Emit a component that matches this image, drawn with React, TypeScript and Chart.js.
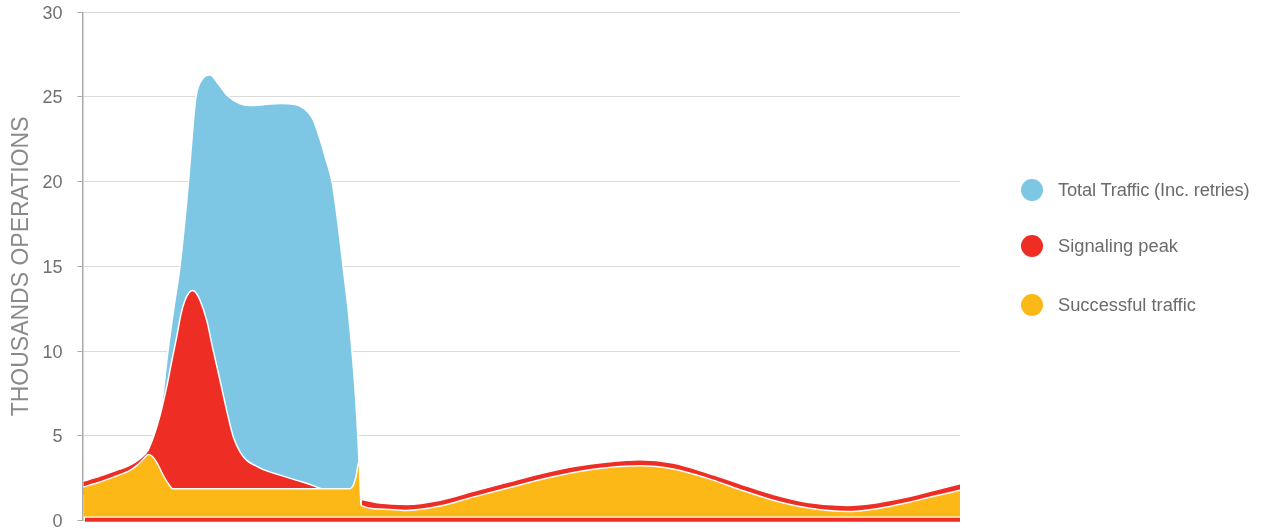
import React, { useEffect, useRef } from "react";
import { Chart, registerables } from "chart.js";

Chart.register(...registerables);

// ---- data (x = position in the observation window, 0..100 %; y = thousands of operations)
const seriesNames = ["Total Traffic (Inc. retries)", "Signaling peak", "Successful traffic"];
const yTitle = "THOUSANDS OPERATIONS";
const yTicks = [0, 5, 10, 15, 20, 25, 30];

const totalT = [7.46, 8.26, 9.03, 9.74, 10.43, 11.11, 12.08, 12.55, 12.93, 13.73, 14.53, 15.44, 16.47, 17.95, 19.09, 20.8, 22.51, 24.22, 25.13, 25.7, 26.27, 27.07, 27.75, 28.43, 29.12, 29.69, 30.26, 30.71, 31.05, 31.28, 31.51];
const totalV = [4.14, 5.3, 6.9, 10.0, 12.6, 15.0, 20.0, 23.0, 25.0, 26.1, 26.3, 25.8, 25.1, 24.6, 24.5, 24.55, 24.62, 24.55, 24.36, 24.1, 23.67, 22.5, 21.3, 20.0, 17.5, 15.0, 12.5, 10.0, 7.8, 5.9, 3.5];

const peakT1 = [0.1, 1.99, 3.7, 5.41, 6.55, 7.46, 7.92, 8.46, 9.03, 9.6, 10.17, 10.74, 11.23, 11.68, 12.14, 12.56, 12.99, 13.39, 14.15, 14.87, 15.67, 16.43, 17.19, 17.95, 18.71, 19.66, 20.6, 22.51, 24.41, 25.93, 27.18];
const peakV1 = [2.33, 2.62, 2.93, 3.27, 3.65, 4.14, 4.7, 5.52, 6.6, 7.9, 9.4, 10.85, 12.2, 13.0, 13.45, 13.57, 13.4, 13.0, 11.83, 10.1, 8.28, 6.5, 4.93, 4.05, 3.55, 3.25, 3.0, 2.68, 2.37, 2.13, 1.88];

const peakT2 = [31.82, 33.9, 36.95, 40.74, 44.5, 48.38, 52.14, 56.13, 59.77, 63.53, 67.29, 71.17, 74.93, 78.69, 82.56, 87.12, 90.54, 93.96, 97.15, 100];
const peakV2 = [1.24, 1.03, 0.95, 1.2, 1.72, 2.25, 2.76, 3.2, 3.45, 3.58, 3.39, 2.82, 2.17, 1.55, 1.08, 0.89, 1.05, 1.38, 1.8, 2.17];

const successT = [0.1, 1.99, 3.7, 5.41, 6.32, 6.89, 7.52, 8.03, 8.6, 9.17, 9.74, 10.31, 30.48, 30.83, 31.17, 31.51, 31.74, 33.9, 36.95, 40.74, 44.5, 48.38, 52.14, 56.13, 59.77, 63.53, 67.29, 71.17, 74.93, 78.69, 82.56, 87.12, 90.54, 93.96, 97.15, 100];
const successV = [1.98, 2.27, 2.6, 2.96, 3.3, 3.6, 3.9, 3.75, 3.3, 2.7, 2.2, 1.88, 1.88, 2.05, 2.6, 3.5, 0.89, 0.68, 0.59, 0.85, 1.38, 1.9, 2.41, 2.85, 3.12, 3.23, 3.04, 2.5, 1.82, 1.2, 0.75, 0.53, 0.7, 1.05, 1.45, 1.78];

const floorT = [0.28, 100];
const floorV = [0.05, 0.05];
const successBase = 0.24;

// ---- styles
const BLUE = "#7EC7E4";
const RED = "#EE2E24";
const YELLOW = "#FBB817";
const FONT = "'Liberation Sans', Arial, Helvetica, sans-serif";
const legendColors = [BLUE, RED, YELLOW];

const pts = (t: number[], v: number[]) => t.map((x, i) => ({ x, y: v[i] }));

export default function App() {
  const ref = useRef<HTMLCanvasElement | null>(null);

  useEffect(() => {
    document.body.style.margin = "0";
    const canvas = ref.current;
    if (!canvas) return;
    // fills of upper layers stop above the bottom of the yellow layer (hidden under it)
    const area = (label: string, data: any[], color: string, order: number, base: number) => ({
      label,
      data,
      order,
      borderColor: "#ffffff",
      borderWidth: 1.5,
      backgroundColor: color,
      fill: { value: base },
      pointRadius: 0,
      pointHoverRadius: 0,
      pointBorderWidth: 0,
      cubicInterpolationMode: "monotone" as const,
    });
    const chart = new Chart(canvas, {
      type: "line",
      data: {
        datasets: [
          area(seriesNames[0], pts(totalT, totalV), BLUE, 5, 1.5),
          area(seriesNames[1], pts(peakT1, peakV1), RED, 4, 1.5),
          area(seriesNames[1], pts(peakT2, peakV2), RED, 3, 0.4),
          area(seriesNames[2], pts(successT, successV), YELLOW, 2, successBase),
          {
            label: "floor",
            data: pts(floorT, floorV),
            order: 1,
            borderColor: RED,
            borderWidth: 4,
            fill: false,
            pointRadius: 0,
            pointBorderWidth: 0,
            clip: 8,
          },
        ],
      },
      options: {
        animation: false,
        responsive: false,
        events: [],
        layout: { autoPadding: false, padding: { left: 0, right: 306, top: 12.3, bottom: 8.5 } },
        plugins: { legend: { display: false }, tooltip: { enabled: false } },
        scales: {
          x: { type: "linear", min: 0, max: 100, display: false },
          y: {
            min: 0,
            max: 30,
            afterBuildTicks: (s: any) => {
              s.ticks = yTicks.map((v) => ({ value: v }));
            },
            afterFit: (s: any) => {
              s.width = 82.5;
              s.paddingTop = 0;
              s.paddingBottom = 0;
            },
            ticks: {
              color: "#707070",
              padding: 15,
              labelOffset: 1.5,
              font: { family: FONT, size: 18 },
            },
            grid: {
              color: "#dadada",
              lineWidth: 1,
              tickLength: 5,
              tickColor: "#a9a9a9",
            },
            border: { color: "#a9a9a9", width: 1.5 },
            title: {
              display: true,
              text: yTitle,
              color: "#8a8a8a",
              font: { family: FONT, size: 23 },
              padding: { top: 8, bottom: 0 },
            },
          },
        },
      },
    } as any);
    return () => chart.destroy();
  }, []);

  return (
    <div style={{ position: "fixed", left: 0, top: 0, width: 1266, height: 529, overflow: "hidden", background: "#fff" }}>
      <canvas ref={ref} width={1266} height={529} style={{ position: "absolute", left: 0, top: 0, width: 1266, height: 529 }} />
      {seriesNames.map((name, i) => (
        <div
          key={name}
          style={{
            position: "absolute",
            left: 1021,
            top: [190, 246, 304.5][i] - 11,
            height: 22,
            display: "flex",
            alignItems: "center",
            fontFamily: FONT,
            fontSize: 18.3,
            color: "#6b6b6b",
            whiteSpace: "nowrap",
          }}
        >
          <span style={{ width: 22, height: 22, borderRadius: 11, background: legendColors[i], marginRight: 15, display: "inline-block", flex: "none" }} />
          <span style={{ letterSpacing: i === 0 ? "-0.15px" : "0px" }}>{name}</span>
        </div>
      ))}
    </div>
  );
}
